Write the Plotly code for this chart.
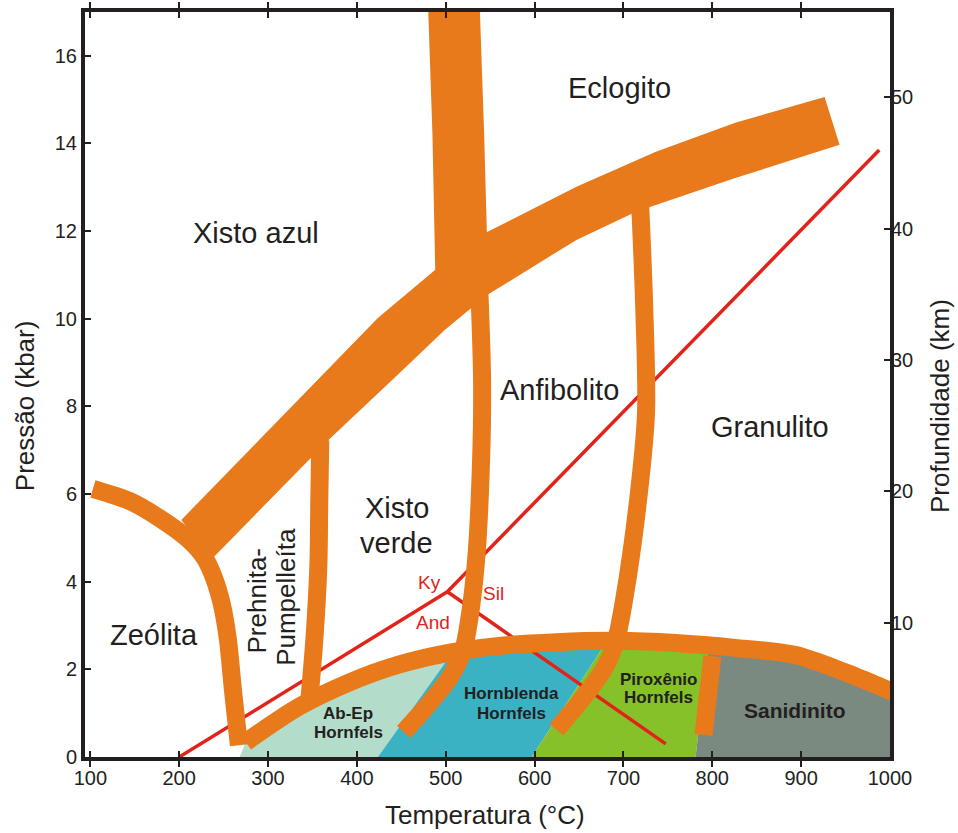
import plotly.graph_objects as go

# ---------------- data (T in °C, P in kbar) ----------------
# wide blueschist / greenschist boundary band (upper and lower edges)
blue_up_T = [202.4, 334.2, 423.6, 490.6, 546.5, 647.1, 736.5, 825.8, 926.4]
blue_up_P = [5.41, 8.15, 10.02, 11.16, 11.98, 13.01, 13.81, 14.47, 15.06]
blue_lo_T = [235.9, 367.7, 446.0, 498.5, 546.5, 647.1, 714.1, 825.8, 943.2]
blue_lo_P = [4.50, 7.23, 8.72, 9.74, 10.54, 11.80, 12.44, 13.21, 13.97]

# wide eclogite boundary band (left and right edges)
eclo_left_T = [479.5, 485.0, 488.4]
eclo_left_P = [17.5, 14.24, 10.90]
eclo_right_T = [537.6, 543.2, 546.5]
eclo_right_P = [17.5, 14.24, 11.80]

# zeolite boundary
zeo_T = [102.9, 144.3, 177.8, 211.3, 228.1, 239.3, 248.2, 254.9, 260.5, 267.2]
zeo_P = [6.12, 5.84, 5.45, 4.95, 4.56, 4.08, 3.47, 2.67, 1.53, 0.27]

# prehnite-pumpellyite boundary
prp_T = [358.8, 357.7, 356.6, 352.1, 346.5]
prp_P = [7.23, 5.86, 4.34, 2.67, 1.30]

# greenschist / amphibolite boundary
amp_T = [537.6, 540.9, 539.8, 534.2, 526.4, 519.7, 504.1, 481.7, 452.7]
amp_P = [10.77, 8.60, 6.78, 4.50, 3.13, 2.44, 1.80, 1.23, 0.57]

# amphibolite / granulite boundary
gra_T = [718.6, 723.1, 725.4, 715.2, 700.7, 691.8, 680.6, 661.6, 641.5, 624.7]
gra_P = [12.71, 10.43, 7.85, 5.64, 3.58, 2.67, 2.10, 1.53, 1.03, 0.62]

# contact-metamorphism upper limit (hornfels arc)
arc_T = [275.0, 334.2, 390.1, 446.0, 501.8, 557.7, 624.7, 691.8, 758.8, 825.8, 892.9, 948.7, 993.4, 1010.0]
arc_P = [0.34, 1.14, 1.69, 2.10, 2.37, 2.53, 2.62, 2.65, 2.60, 2.49, 2.33, 1.94, 1.57, 1.43]

# pyroxene hornfels / sanidinite boundary
san_T = [800.1, 790.1]
san_P = [2.30, 0.50]

# hornfels field limits: (bottom T, top T, top P)
abep_left = (268.0, 275.0, 0.34)
abep_hb = (423.6, 507.4, 2.38)
hb_px = (596.8, 680.6, 2.62)
px_san = (781.2, 794.6, 2.35)
san_right = (1010.0, 1010.0, 1.43)

# Al2SiO5 triple point and reactions
tp_T, tp_P = 501.8, 3.77
kyand_T = [200.1, tp_T]
kyand_P = [0.0, tp_P]
kysil_T = [tp_T, 987.9]
kysil_P = [tp_P, 13.85]
andsil_T = [tp_T, 747.6]
andsil_P = [tp_P, 0.30]

# axis ticks
x_ticks = [100, 200, 300, 400, 500, 600, 700, 800, 900, 1000]
p_ticks = [0, 2, 4, 6, 8, 10, 12, 14, 16]
km_ticks = [10, 20, 30, 40, 50]

# labels: (text, T, P)
facies_labels = [
    ("Eclogito", 695, 15.27),
    ("Xisto azul", 287, 11.96),
    ("Granulito", 865, 7.53),
    ("Anfibolito", 628, 8.38),
    ("Xisto", 445, 5.68),
    ("verde", 445, 4.88),
    ("Zeólita", 172, 2.78),
]
rotated_labels = [("Prehnita-", 288, 3.58), ("Pumpelleíta", 320, 3.65)]
al_labels = [("Ky", 482, 3.99), ("Sil", 554, 3.74), ("And", 486, 3.08)]
hornfels_labels = [
    ("Ab-Ep", 390, 1.00), ("Hornfels", 390, 0.57),
    ("Hornblenda", 574, 1.46), ("Hornfels", 574, 1.00),
    ("Piroxênio", 740, 1.76), ("Hornfels", 740, 1.35),
]
san_label = ("Sanidinito", 893, 1.07)

# ---------------- styles ----------------
ORANGE = "#E87A1C"
RED = "#E2231A"
MINT = "#B3DDCA"
TEAL = "#3AB2C4"
GREEN = "#86C12A"
GREY = "#7A8A80"
INK = "#231F20"
FONT = "Liberation Sans, Arial, sans-serif"
BAND_W = 18

fig = go.Figure()


def region(left, right, color):
    lb, lt, lp = left
    rb, rt, rp = right
    xs = [lb, lt]
    ys = [0, lp]
    for t, p in zip(arc_T, arc_P):
        if lt < t < rt:
            xs.append(t)
            ys.append(p)
    xs += [rt, rb]
    ys += [rp, 0]
    fig.add_trace(go.Scatter(x=xs, y=ys, fill="toself", fillcolor=color, mode="lines",
                             line=dict(width=0, color=color), hoverinfo="skip", showlegend=False))


region(abep_left, abep_hb, MINT)
region(abep_hb, hb_px, TEAL)
region(hb_px, px_san, GREEN)
region(px_san, san_right, GREY)

for xs, ys in [(kyand_T, kyand_P), (kysil_T, kysil_P), (andsil_T, andsil_P)]:
    fig.add_trace(go.Scatter(x=xs, y=ys, mode="lines", line=dict(color=RED, width=3.5),
                             hoverinfo="skip", showlegend=False))

# wide bands as polygons
fig.add_trace(go.Scatter(x=blue_up_T + blue_lo_T[::-1], y=blue_up_P + blue_lo_P[::-1],
                         fill="toself", fillcolor=ORANGE, mode="lines", line=dict(width=0, color=ORANGE),
                         hoverinfo="skip", showlegend=False))
fig.add_trace(go.Scatter(x=eclo_left_T + eclo_right_T[::-1], y=eclo_left_P + eclo_right_P[::-1],
                         fill="toself", fillcolor=ORANGE, mode="lines", line=dict(width=0, color=ORANGE),
                         hoverinfo="skip", showlegend=False))

for xs, ys in [(zeo_T, zeo_P), (prp_T, prp_P), (amp_T, amp_P), (gra_T, gra_P), (arc_T, arc_P), (san_T, san_P)]:
    fig.add_trace(go.Scatter(x=xs, y=ys, mode="lines",
                             line=dict(color=ORANGE, width=BAND_W, shape="spline", smoothing=0.8),
                             hoverinfo="skip", showlegend=False))

# dummy trace for the depth axis
fig.add_trace(go.Scatter(x=[None], y=[None], yaxis="y2", showlegend=False, hoverinfo="skip"))

C = dict(showarrow=False, xanchor="center", yanchor="middle")
ann = []
for text, t, p in facies_labels:
    ann.append(dict(x=t, y=p, text=text, font=dict(size=29, color=INK, family=FONT), **C))
for text, t, p in rotated_labels:
    ann.append(dict(x=t, y=p, text=text, textangle=-90, font=dict(size=26, color=INK, family=FONT), **C))
for text, t, p in al_labels:
    ann.append(dict(x=t, y=p, text=text, font=dict(size=19, color=RED, family=FONT), **C))
for text, t, p in hornfels_labels:
    ann.append(dict(x=t, y=p, text="<b>" + text + "</b>", font=dict(size=17, color=INK, family=FONT), **C))
ann.append(dict(x=san_label[1], y=san_label[2], text="<b>" + san_label[0] + "</b>",
                font=dict(size=21, color=INK, family=FONT), **C))

# axis titles
ann.append(dict(xref="paper", yref="paper", x=0.497, y=-0.078, text="Temperatura (°C)",
                font=dict(size=26, color=INK, family=FONT), **C))
ann.append(dict(xref="paper", yref="paper", x=-0.0745, y=0.471, text="Pressão (kbar)", textangle=-90,
                font=dict(size=26, color=INK, family=FONT), **C))
ann.append(dict(xref="paper", yref="paper", x=1.062, y=0.471, text="Profundidade (km)", textangle=-90,
                font=dict(size=26, color=INK, family=FONT), **C))

axis_common = dict(showgrid=False, zeroline=False, ticks="inside", ticklen=6, tickwidth=1.5,
                   tickcolor=INK, tickfont=dict(size=20, color=INK, family=FONT), automargin=False)

fig.update_layout(
    width=958, height=833,
    margin=dict(l=85, r=68, t=12, b=76),
    paper_bgcolor="white", plot_bgcolor="white",
    showlegend=False,
    annotations=ann,
    xaxis=dict(range=[94, 1000], tickvals=x_ticks, showline=True, linewidth=4, linecolor=INK,
               mirror="allticks", **axis_common),
    yaxis=dict(range=[0, 17], tickvals=p_ticks, showline=True, linewidth=4, linecolor=INK,
               mirror=True, **axis_common),
    yaxis2=dict(range=[-0.23, 56.5], tickvals=km_ticks, overlaying="y", side="right", anchor="x",
                showline=False, **axis_common),
)

# remove the default page margin so the figure fills the window exactly
fig.write_html("out.html", config={"displayModeBar": False},
               post_script="document.body.style.margin='0';document.body.style.overflow='hidden';")
